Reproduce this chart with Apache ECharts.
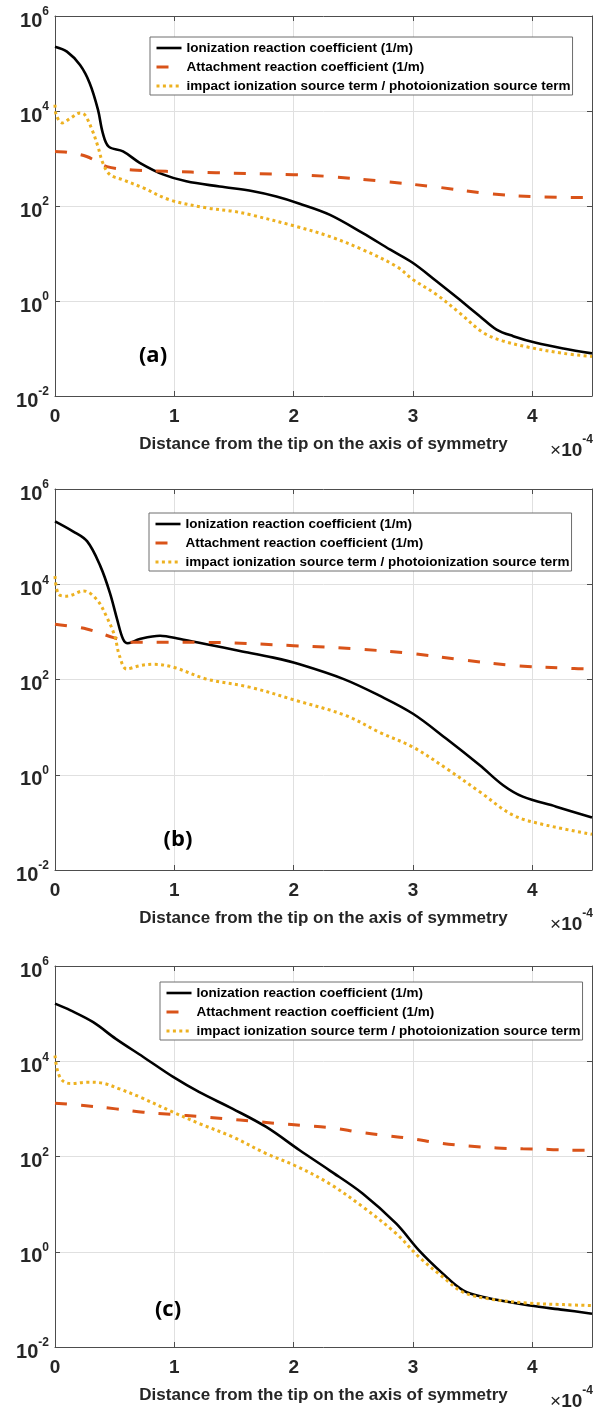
<!DOCTYPE html>
<html><head><meta charset="utf-8">
<script src="https://cdn.jsdelivr.net/npm/echarts/dist/echarts.min.js"></script>
<style>html,body{margin:0;padding:0;background:#fff}#c{width:597px;height:1408px}</style>
</head><body><div id="c"></div>
<script>
// ---------- data (x in units of 1e-4) ----------
const seriesNames = ['Ionization reaction coefficient (1/m)', 'Attachment reaction coefficient (1/m)', 'impact ionization source term / photoionization source term'];
const panelLabels = ['(a)', '(b)', '(c)'];
const xAxisTitle = 'Distance from the tip on the axis of symmetry';

// Panel (a)
const aIonX = [0, 0.1, 0.21, 0.29, 0.36, 0.40, 0.45, 0.57, 0.71, 0.91, 1.10, 1.38, 1.66, 1.855, 2.05, 2.30, 2.58, 2.81, 3.0, 3.195, 3.39, 3.56, 3.70, 3.84, 4.03, 4.26, 4.5];
const aIonY = [2.26e5, 1.78e5, 9.3e4, 3.9e4, 1.07e4, 3470, 1780, 1410, 813, 457, 331, 257, 204, 158, 112, 66, 26.9, 12.0, 6.3, 2.63, 1.07, 0.479, 0.251, 0.182, 0.132, 0.1, 0.079];
const aAttX = [0, 0.1, 0.265, 0.435, 0.65, 0.93, 1.35, 2.0, 2.30, 2.75, 3.195, 3.64, 4.09, 4.5];
const aAttY = [1410, 1350, 1100, 676, 575, 537, 501, 457, 417, 331, 251, 182, 155, 151];
const aRatX = [0, 0.01, 0.06, 0.13, 0.21, 0.25, 0.31, 0.36, 0.40, 0.46, 0.57, 0.74, 0.96, 1.27, 1.49, 1.63, 2.02, 2.30, 2.58, 2.86, 3.0, 3.195, 3.39, 3.59, 3.75, 3.98, 4.26, 4.5];
const aRatY = [13500, 8300, 5620, 7080, 9120, 8300, 4070, 1780, 813, 457, 355, 240, 135, 91.2, 77.6, 66.1, 37.2, 22.9, 12.0, 5.37, 2.82, 1.38, 0.562, 0.214, 0.145, 0.105, 0.079, 0.068];

// Panel (b)
const bIonX = [0, 0.15, 0.27, 0.38, 0.46, 0.52, 0.57, 0.61, 0.71, 0.88, 1.05, 1.27, 1.55, 1.83, 2.05, 2.42, 2.72, 3.0, 3.28, 3.56, 3.755, 3.92, 4.2, 4.5];
const bIonY = [2.09e5, 1.29e5, 7.94e4, 2.40e4, 6610, 1860, 708, 575, 708, 832, 708, 550, 398, 288, 209, 102, 45.7, 19.1, 5.69, 1.58, 0.603, 0.347, 0.214, 0.126];
const bAttX = [0, 0.265, 0.49, 0.65, 1.22, 2.0, 2.53, 2.97, 3.42, 3.87, 4.35, 4.5];
const bAttY = [1450, 1150, 759, 603, 603, 513, 437, 355, 257, 195, 170, 166];
const bRatX = [0, 0.03, 0.10, 0.24, 0.35, 0.43, 0.50, 0.54, 0.60, 0.71, 0.82, 0.99, 1.27, 1.63, 2.02, 2.44, 2.72, 3.0, 3.28, 3.56, 3.84, 4.12, 4.5];
const bRatY = [14800, 6170, 5620, 7240, 4790, 2140, 832, 316, 166, 195, 209, 182, 102, 69.2, 36.3, 17.4, 7.76, 3.80, 1.35, 0.437, 0.141, 0.0871, 0.0562];

// Panel (c)
const cIonX = [0, 0.13, 0.32, 0.51, 0.74, 0.99, 1.21, 1.49, 1.77, 2.05, 2.30, 2.58, 2.86, 3.05, 3.25, 3.42, 3.59, 3.98, 4.26, 4.5];
const cIonY = [1.62e5, 1.17e5, 6.61e4, 2.95e4, 1.23e4, 4680, 2240, 1000, 417, 135, 51.3, 16.6, 3.89, 1.07, 0.347, 0.155, 0.112, 0.0741, 0.0603, 0.0501];
const cAttX = [0, 0.24, 0.51, 0.74, 0.99, 1.21, 1.44, 1.66, 1.88, 2.08, 2.33, 2.55, 2.78, 3.0, 3.22, 3.46, 3.70, 3.92, 4.14, 4.37, 4.5];
const cAttY = [1320, 1175, 1000, 851, 759, 692, 617, 550, 490, 447, 398, 324, 275, 234, 191, 166, 151, 145, 141, 135, 135];
const cRatX = [0, 0.02, 0.06, 0.13, 0.27, 0.40, 0.54, 0.71, 0.99, 1.21, 1.49, 1.77, 2.02, 2.30, 2.58, 2.86, 3.05, 3.25, 3.42, 3.64, 3.98, 4.26, 4.5];
const cRatY = [13200, 6460, 3980, 3390, 3630, 3470, 2630, 1780, 851, 490, 257, 115, 63.1, 26.9, 8.71, 2.40, 0.776, 0.295, 0.141, 0.102, 0.0832, 0.0776, 0.0741];

const panels = [
  [[aIonX, aIonY], [aAttX, aAttY], [aRatX, aRatY]],
  [[bIonX, bIonY], [bAttX, bAttY], [bRatX, bRatY]],
  [[cIonX, cIonY], [cAttX, cAttY], [cRatX, cRatY]]
];

// ---------- layout / style ----------
const FONT = 'Liberation Sans, Arial, sans-serif';
const AX = '#4d4d4d', TXT = '#262626', GRID = '#e0e0e0';
const gridTops = [16, 489, 966];
const gridH = [380, 381, 381];
const legendPos = [[150, 37], [149, 513], [160, 982]];
const labelPos = [[153, 356], [178, 840], [168, 1310]];
const lineStyles = [
  {color: '#000000', width: 2.6, type: 'solid'},
  {color: '#D95319', width: 3, type: [12, 14], cap: 'butt'},
  {color: '#EDB120', width: 3, type: [3, 3.4], cap: 'butt'}
];

const grids = [], xAxes = [], yAxes = [], series = [], legends = [], graphics = [];
for (let i = 0; i < 3; i++) {
  grids.push({left: 55, top: gridTops[i], width: 537, height: gridH[i], containLabel: false});
  const common = {gridIndex: i, axisLine: {show: true, onZero: false, lineStyle: {color: AX, width: 1}},
                  axisTick: {show: true, inside: true, length: 5, lineStyle: {color: AX}}};
  xAxes.push(Object.assign({}, common, {
    type: 'value', min: 0, max: 4.5, interval: 1, position: 'bottom',
    axisLabel: {fontSize: 19, fontWeight: 'bold', color: TXT, fontFamily: FONT, margin: 11, showMaxLabel: false},
    splitLine: {show: true, lineStyle: {color: GRID, width: 1}},
    name: xAxisTitle, nameLocation: 'middle', nameGap: 40,
    nameTextStyle: {fontSize: 17, fontWeight: 'bold', color: TXT, fontFamily: FONT}
  }));
  xAxes.push(Object.assign({}, common, {
    type: 'value', min: 0, max: 4.5, interval: 1, position: 'top',
    axisLabel: {show: false}, splitLine: {show: false}
  }));
  const yLab = {
    fontFamily: FONT, color: TXT, margin: 6,
    formatter: v => '{b|10}{s|' + Math.round(Math.log10(v)) + '}',
    rich: {
      b: {fontSize: 20, fontWeight: 'bold', color: TXT, fontFamily: FONT, padding: [10, 0, 0, 0], verticalAlign: 'bottom'},
      s: {fontSize: 12, fontWeight: 'bold', color: TXT, fontFamily: FONT, padding: [5, 0, 0, 0], verticalAlign: 'top'}
    }
  };
  yAxes.push(Object.assign({}, common, {
    type: 'log', logBase: 10, min: 0.01, max: 1e6, interval: 2, position: 'left',
    axisLabel: yLab, splitLine: {show: true, lineStyle: {color: GRID, width: 1}}
  }));
  yAxes.push(Object.assign({}, common, {
    type: 'log', logBase: 10, min: 0.01, max: 1e6, interval: 2, position: 'right',
    axisLabel: {show: false}, splitLine: {show: false}
  }));
  panels[i].forEach((pair, k) => {
    const xs = pair[0], ys = pair[1];
    series.push({
      name: seriesNames[k], type: 'line', xAxisIndex: 2 * i, yAxisIndex: 2 * i,
      data: xs.map((x, j) => [x, ys[j]]),
      showSymbol: false, symbol: 'none', smooth: 0.35,
      lineStyle: lineStyles[k], itemStyle: {color: lineStyles[k].color},
      emphasis: {disabled: true}, z: 2 + k
    });
  });
  legends.push({
    orient: 'vertical', left: legendPos[i][0], top: legendPos[i][1],
    padding: [4, 2, 2, 5], itemGap: 5, itemWidth: 25, itemHeight: 14,
    backgroundColor: '#ffffff', borderColor: '#6e6e6e', borderWidth: 1,
    selectedMode: false, data: seriesNames,
    itemStyle: {opacity: 0},
    lineStyle: {width: 'inherit', type: 'inherit', cap: 'butt'},
    textStyle: {fontFamily: FONT, fontWeight: 'bold', fontSize: 13.5, color: '#000'}
  });
  graphics.push({
    type: 'text', x: labelPos[i][0], y: labelPos[i][1], z: 10,
    style: {text: panelLabels[i], fill: '#000', font: 'bold 22px "Open Sans", Lato, sans-serif', align: 'center', verticalAlign: 'middle'}
  });
  graphics.push({
    type: 'text', x: 593, y: gridTops[i] + gridH[i] + 51, z: 10,
    style: {
      text: '{m|×}{b|10}{s|-4}', align: 'right', verticalAlign: 'middle',
      rich: {
        m: {fontSize: 19, fontFamily: FONT, fill: TXT, color: TXT, verticalAlign: 'bottom', padding: [7, 0, 0, 0]},
        b: {fontSize: 19, fontWeight: 'bold', fontFamily: FONT, fill: TXT, color: TXT, verticalAlign: 'bottom', padding: [7, 0, 0, 0]},
        s: {fontSize: 12, fontWeight: 'bold', fontFamily: FONT, fill: TXT, color: TXT, verticalAlign: 'top'}
      }
    }
  });
}

const chart = echarts.init(document.getElementById('c'), null, {renderer: 'canvas'});
chart.setOption({
  animation: false,
  backgroundColor: '#ffffff',
  grid: grids, xAxis: xAxes, yAxis: yAxes, series: series, legend: legends, graphic: graphics
});
</script>
</body></html>
